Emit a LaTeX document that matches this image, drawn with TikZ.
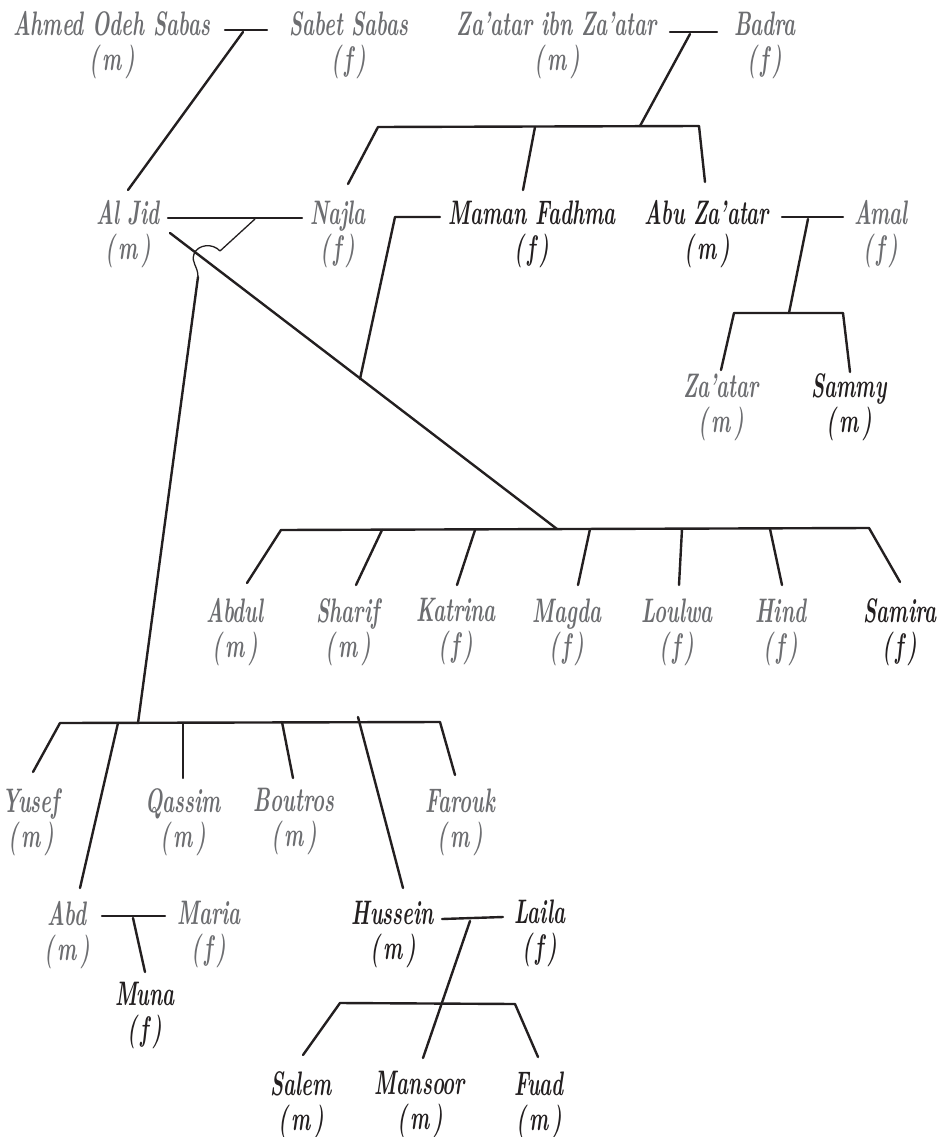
\documentclass[tikz,border=0pt]{standalone}
\usepackage{graphicx}
\definecolor{ink}{HTML}{231F20}
\definecolor{soft}{HTML}{6D6E71}
\newcommand\hsq[1]{\scalebox{0.6}[1]{#1}}
\newcommand\pp[2]{\hsq{#1}\\\hsq{(\,#2\,)}}
\tikzset{
  person/.style={inner sep=0pt, align=center, font=\fontsize{34}{35}\selectfont\bfseries\itshape},
  gp/.style={person, text=soft},
  bp/.style={person, text=ink},
  thk/.style={draw=ink, line width=2.4pt, line cap=round, line join=round},
  thn/.style={draw=ink, line width=1.3pt, line cap=round, line join=round}
}
\begin{document}
\begin{tikzpicture}[x=1pt,y=-1pt]
\useasboundingbox (0,0) rectangle (949,1137);
% ---------- people ----------
\node[gp] (aos) at (112,45) {\pp{Ahmed Odeh Sabas}{m}};
\node[gp] (ss)  at (349,45) {\pp{Sabet Sabas}{f}};
\node[gp] (zz)  at (557,45) {\pp{Za’atar ibn Za’atar}{m}};
\node[gp] (bad) at (765,45) {\pp{Badra}{f}};
\node[gp] (aj)  at (128,234) {\pp{Al Jid}{m}};
\node[gp] (naj) at (338,234) {\pp{Najla}{f}};
\node[bp] (mf)  at (532,234) {\pp{Maman Fadhma}{f}};
\node[bp] (abu) at (707,234) {\pp{Abu Za’atar}{m}};
\node[gp] (amal) at (881,234) {\pp{Amal}{f}};
\node[gp] (zat) at (721,407) {\pp{Za’atar}{m}};
\node[bp] (sam) at (849,407) {\pp{Sammy}{m}};
\node[gp] (abdul) at (235,632) {\pp{Abdul}{m}};
\node[gp] (shar)  at (348,632) {\pp{Sharif}{m}};
\node[gp] (kat)   at (456,632) {\pp{Katrina}{f}};
\node[gp] (mag)   at (567,632) {\pp{Magda}{f}};
\node[gp] (lou)   at (677,632) {\pp{Loulwa}{f}};
\node[gp] (hind)  at (781,632) {\pp{Hind}{f}};
\node[bp] (samira) at (900,632) {\pp{Samira}{f}};
\node[gp] (yus) at (31,822) {\pp{Yusef}{m}};
\node[gp] (qas) at (183,822) {\pp{Qassim}{m}};
\node[gp] (bou) at (294,822) {\pp{Boutros}{m}};
\node[gp] (far) at (460,822) {\pp{Farouk}{m}};
\node[gp] (abd) at (67,935) {\pp{Abd}{m}};
\node[gp] (mar) at (209,935) {\pp{Maria}{f}};
\node[bp] (muna) at (145,1016) {\pp{Muna}{f}};
\node[bp] (hus) at (393,935) {\pp{Hussein}{m}};
\node[bp] (lai) at (540,933) {\pp{Laila}{f}};
\node[bp] (sal) at (301,1105) {\pp{Salem}{m}};
\node[bp] (man) at (420,1105) {\pp{Mansoor}{m}};
\node[bp] (fuad) at (539,1105) {\pp{Fuad}{m}};
% ---------- connector points ----------
% Ahmed + Sabet
\coordinate (m1l) at (225,30); \coordinate (m1r) at (267,30);
\coordinate (m1d) at (243,32); \coordinate (ajTop) at (128,190);
% Za'atar ibn Za'atar + Badra
\coordinate (m2l) at (670,32); \coordinate (m2r) at (717,32);
\coordinate (m2d) at (690,34); \coordinate (b2m) at (640,126);
\coordinate (b2l) at (378,127); \coordinate (b2r) at (699,126);
\coordinate (b2c) at (535,127);
\coordinate (najTop) at (348,184); \coordinate (mfTop) at (523,190); \coordinate (abuTop) at (705,182);
% Al Jid + Najla
\coordinate (m3l) at (168,218); \coordinate (m3r) at (302,218);
\coordinate (m3d) at (255,219); \coordinate (hop1) at (220,251);
\coordinate (hop2) at (198,277);
% Al Jid + Maman Fadhma
\coordinate (ajR) at (170,233);
\coordinate (mfL) at (440,217); \coordinate (mfC) at (395,217); \coordinate (mfJ) at (360,379);
% Abu Za'atar + Amal
\coordinate (m4l) at (782,217); \coordinate (m4r) at (843,217);
\coordinate (m4d) at (808,219); \coordinate (b4m) at (789,313);
\coordinate (b4l) at (734,313); \coordinate (b4r) at (843,313);
\coordinate (zatTop) at (721,370); \coordinate (samTop) at (850,372);
% big sibling bar
\coordinate (b5l) at (281,530); \coordinate (b5r) at (869,528); \coordinate (b5m) at (557,529);
\coordinate (b5a) at (382,530); \coordinate (b5b) at (475,530); \coordinate (b5c) at (590,529);
\coordinate (b5d) at (682,529); \coordinate (b5e) at (770,529);
\coordinate (abdulTop) at (247,583); \coordinate (sharTop) at (356,585); \coordinate (katTop) at (457,585);
\coordinate (magTop) at (578,585); \coordinate (louTop) at (679,585); \coordinate (hindTop) at (782,585);
\coordinate (samiraTop) at (900,582);
% lower sibling bar
\coordinate (b6l) at (60,723); \coordinate (b6r) at (440,722); \coordinate (b6m) at (138,723);
\coordinate (b6a) at (118,723); \coordinate (b6b) at (183,723); \coordinate (b6c) at (282,722);
\coordinate (b6h) at (358,717);
\coordinate (yusTop) at (33,772); \coordinate (abdTop) at (80,888); \coordinate (qasTop) at (183,778);
\coordinate (bouTop) at (293,778); \coordinate (husTop) at (403,888); \coordinate (farTop) at (455,775);
% Abd + Maria
\coordinate (m7l) at (102,916); \coordinate (m7r) at (165,916);
\coordinate (m7d) at (133,918); \coordinate (munaTop) at (145,972);
% Hussein + Laila
\coordinate (m8l) at (442,919); \coordinate (m8r) at (503,917);
\coordinate (m8d) at (470,921); \coordinate (manTop) at (423,1058);
\coordinate (b8l) at (340,1003); \coordinate (b8r) at (515,1004);
\coordinate (salTop) at (303,1055); \coordinate (fuadTop) at (538,1057);
% ---------- connectors ----------
\draw[thk] (m1l) -- (m1r);
\draw[thk] (m1d) -- (ajTop);
\draw[thk] (m2l) -- (m2r);
\draw[thk] (m2d) -- (b2m);
\draw[thk] (najTop) -- (b2l) -- (b2r) -- (abuTop);
\draw[thk] (b2c) -- (mfTop);
\draw[thk] (m3l) -- (m3r);
\draw[thn] (m3d) -- (hop1) .. controls (213,243) and (198,244) .. (194,254)
   .. controls (191,263) and (198,266) .. (hop2);
\draw[thk] (hop2) -- (b6m);
\draw[thk] (ajR) -- (b5m);
\draw[thk] (mfL) -- (mfC) -- (mfJ);
\draw[thk] (m4l) -- (m4r);
\draw[thk] (m4d) -- (b4m);
\draw[thk] (zatTop) -- (b4l) -- (b4r) -- (samTop);
\draw[thk] (abdulTop) -- (b5l) -- (b5r) -- (samiraTop);
\draw[thk] (b5a) -- (sharTop);
\draw[thk] (b5b) -- (katTop);
\draw[thk] (b5c) -- (magTop);
\draw[thk] (b5d) -- (louTop);
\draw[thk] (b5e) -- (hindTop);
\draw[thk] (yusTop) -- (b6l) -- (b6r) -- (farTop);
\draw[thk] (b6a) -- (abdTop);
\draw[thk] (b6b) -- (qasTop);
\draw[thk] (b6c) -- (bouTop);
\draw[thk] (b6h) -- (husTop);
\draw[thk] (m7l) -- (m7r);
\draw[thk] (m7d) -- (munaTop);
\draw[thk] (m8l) -- (m8r);
\draw[thk] (m8d) -- (manTop);
\draw[thk] (salTop) -- (b8l) -- (b8r) -- (fuadTop);
\end{tikzpicture}
\end{document}
